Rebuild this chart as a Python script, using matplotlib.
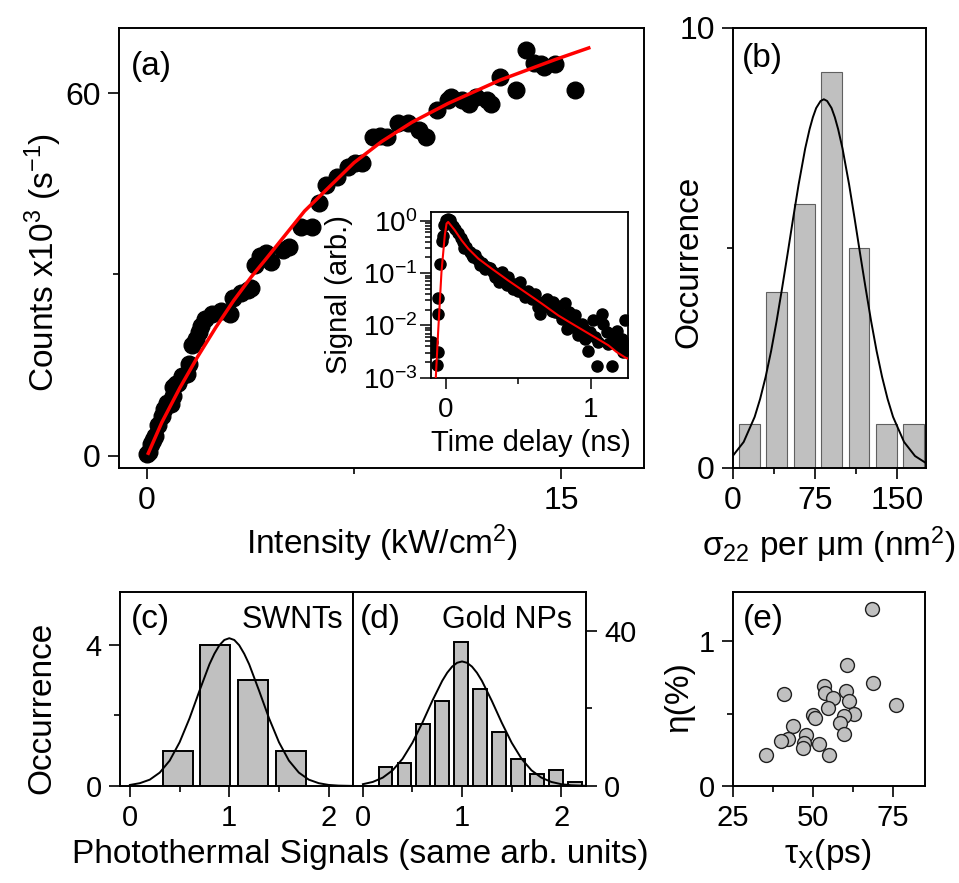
import matplotlib
matplotlib.use("Agg")
import matplotlib.pyplot as plt
from matplotlib.ticker import FixedLocator, LogLocator, NullFormatter

plt.rcParams['font.family'] = ['Liberation Sans', 'DejaVu Sans']
plt.rcParams['mathtext.fontset'] = 'custom'
plt.rcParams['mathtext.rm'] = 'Liberation Sans'
plt.rcParams['mathtext.it'] = 'Liberation Sans:italic'
plt.rcParams['mathtext.default'] = 'regular'

# (a) counts vs intensity
a_int = [0.02, 0.09, 0.16, 0.22, 0.28, 0.41, 0.54, 0.61, 0.74, 0.87, 0.93, 0.93, 1.05, 1.13,
         1.26, 1.45, 1.52, 1.65, 1.77, 1.90, 1.97, 2.10, 2.36, 2.68, 3.01, 3.13, 3.39, 3.65,
         3.78, 3.91, 4.10, 4.30, 4.50, 4.94, 5.13, 5.58, 5.97, 6.23, 6.49, 6.88, 7.27, 7.53,
         7.79, 8.17, 8.45, 8.69, 9.08, 9.47, 9.86, 10.12, 10.51, 10.89, 11.02, 11.41, 11.67,
         11.93, 12.32, 12.45, 12.77, 13.35, 13.74, 14.00, 14.26, 14.39, 14.78, 15.49]
a_counts = [0.3, 0.6, 1.9, 2.6, 3.3, 5.0, 6.6, 7.7, 8.8, 8.5, 9.9, 11.3, 11.8, 12.1,
            13.2, 13.5, 15.1, 18.4, 19.3, 20.4, 21.5, 22.6, 23.4, 23.9, 23.4, 26.1, 27.0, 27.5,
            27.8, 31.6, 33.0, 33.6, 32.0, 34.0, 34.6, 37.9, 37.9, 41.8, 44.8, 46.2, 47.8, 48.4,
            48.4, 52.8, 53.0, 52.8, 55.0, 55.0, 53.9, 52.8, 57.2, 58.8, 59.4, 58.8, 58.3,
            59.4, 58.8, 58.3, 62.7, 60.5, 67.1, 65.0, 64.9, 64.4, 64.9, 60.5]
a_fit_int = [0.05, 0.54, 1.19, 1.84, 2.49, 3.13, 3.78, 4.30, 5.71, 7.5, 8.5, 9.6, 10.9, 12.8, 14.8, 16.0]
a_fit_counts = [0.4, 5.5, 11.2, 16.4, 21.2, 25.6, 29.6, 32.5, 40.5, 48.5, 52.0, 55.2, 58.3, 62.2, 65.6, 67.5]

# inset: time-resolved signal
in_t = [-0.096, -0.092, -0.062, -0.051, -0.055, -0.051, -0.039, -0.023, -0.016, -0.009, 0.0, 0.014,
        0.03, 0.041, 0.053, 0.068, 0.087, 0.105, 0.121, 0.144, 0.167, 0.179, 0.201, 0.224, 0.236,
        0.259, 0.282, 0.305, 0.328, 0.351, 0.367, 0.39, 0.408, 0.431, 0.449, 0.465, 0.488, 0.511,
        0.523, 0.546, 0.569, 0.592, 0.615, 0.638, 0.649, 0.672, 0.695, 0.718, 0.741, 0.752, 0.775,
        0.798, 0.821, 0.833, 0.849, 0.867, 0.89, 0.913, 0.936, 0.959, 0.982, 0.993, 1.016, 1.028,
        1.039, 1.05, 1.073, 1.085, 1.108, 1.12, 1.143, 1.154, 1.177, 1.189, 1.212, 1.234, 1.234, 1.223,
        0.13, 0.19, 0.25, 0.27, 0.34, 0.38, 0.42, 0.47, 0.50, 0.56, 0.60, 0.66, 0.70, 0.73, 0.78,
        0.86, 0.88, 0.95]
in_sig = [0.00479, 0.00309, 0.00178, 0.00316, 0.0166, 0.0331, 0.151, 0.407, 0.513, 0.851, 1.02, 1.10,
          1.02, 0.891, 0.794, 0.692, 0.575, 0.468, 0.398, 0.316, 0.257, 0.219, 0.224, 0.178, 0.141,
          0.145, 0.132, 0.123, 0.105, 0.0912, 0.0676, 0.105, 0.0776, 0.0851, 0.0631, 0.0501, 0.0537, 0.0676,
          0.0427, 0.0347, 0.0447, 0.0324, 0.0407, 0.0224, 0.0166, 0.0282, 0.0316, 0.0224, 0.0282, 0.0182, 0.0240,
          0.0135, 0.0263, 0.00871, 0.0182, 0.0126, 0.0155, 0.00646, 0.0107, 0.0055, 0.00331, 0.00741, 0.0126, 0.00603,
          0.0017, 0.00479, 0.0166, 0.0107, 0.00741, 0.00447, 0.0017, 0.00603, 0.00794, 0.00417, 0.0055, 0.0126, 0.00417, 0.00309,
          0.30, 0.20, 0.155, 0.12, 0.085, 0.09, 0.06, 0.062, 0.045, 0.036, 0.038, 0.021, 0.025, 0.019, 0.017,
          0.011, 0.0095, 0.0085]
in_fit_t = [-0.067, -0.051, -0.028, -0.005, 0.007, 0.018, 0.064, 0.11, 0.156, 0.225, 0.316, 0.431,
            0.546, 0.661, 0.776, 0.89, 1.005, 1.12, 1.177, 1.234, 1.255]
in_fit_sig = [0.001, 0.0074, 0.105, 0.537, 0.89, 0.955, 0.66, 0.427, 0.295, 0.19, 0.123, 0.0724,
              0.0437, 0.0263, 0.0155, 0.01, 0.00646, 0.00417, 0.00309, 0.00245, 0.0023]

# (b) cross-section histogram
b_bins = [15, 40, 65, 90, 115, 140, 165]
b_counts = [1, 4, 6, 9, 5, 1, 1]
b_fit_x = [0, 10, 20, 25, 30, 35, 40, 45, 50, 55, 60, 66, 70, 73, 76, 80, 83, 86, 90, 93,
           96, 100, 106, 111, 116, 121, 126, 131, 136, 141, 146, 156, 166, 176]
b_fit_y = [0.27, 0.59, 1.16, 1.57, 2.07, 2.66, 3.34, 4.09, 4.87, 5.67, 6.44, 7.26, 7.70, 7.97, 8.18,
           8.34, 8.38, 8.34, 8.18, 7.97, 7.70, 7.26, 6.44, 5.67, 4.87, 4.09, 3.34, 2.66, 2.07, 1.57,
           1.16, 0.59, 0.27, 0.11]

# (c) SWNTs histogram
c_bins = [0.48, 0.86, 1.24, 1.62]
c_counts = [1, 4, 3, 1]
c_fit_x = [0, 0.1, 0.2, 0.3, 0.4, 0.5, 0.6, 0.7, 0.8, 0.85, 0.9, 0.95, 1.0, 1.05, 1.1, 1.15,
           1.2, 1.3, 1.4, 1.5, 1.6, 1.7, 1.8, 1.9, 2.0, 2.1, 2.245]
c_fit_y = [0.03, 0.08, 0.18, 0.38, 0.72, 1.24, 1.92, 2.70, 3.45, 3.75, 3.99, 4.14, 4.19, 4.14, 3.99, 3.75,
           3.45, 2.70, 1.92, 1.24, 0.72, 0.38, 0.18, 0.08, 0.03, 0.011, 0.002]

# (d) gold NPs histogram
d_bins = [0.228, 0.419, 0.61, 0.801, 0.992, 1.183, 1.374, 1.565, 1.756, 1.947, 2.138]
d_counts = [5, 6, 16, 22, 37, 25, 14, 7, 3, 4, 1]
d_fit_x = [0, 0.1, 0.2, 0.3, 0.4, 0.5, 0.6, 0.7, 0.8, 0.85, 0.9, 0.95, 1.0, 1.05, 1.1, 1.15,
           1.2, 1.3, 1.4, 1.5, 1.6, 1.7, 1.8, 1.9, 2.0, 2.1, 2.25]
d_fit_y = [0.47, 1.05, 2.15, 4.05, 7.01, 11.17, 16.33, 21.95, 27.11, 29.19, 30.77, 31.76, 32.1, 31.76,
           30.77, 29.19, 27.11, 21.95, 16.33, 11.17, 7.01, 4.05, 2.15, 1.05, 0.47, 0.19, 0.04]

# (e) efficiency vs exciton lifetime
e_tau = [68.5, 60.8, 41.1, 53.4, 53.9, 56.3, 60.5, 61.3, 68.8, 75.8, 54.8, 62.9, 59.6,
         49.9, 50.8, 58.4, 43.9, 59.6, 48.0, 42.1, 40.0, 47.2, 47.0, 52.0, 55.1, 35.3]
e_eta = [1.225, 0.833, 0.637, 0.692, 0.641, 0.611, 0.653, 0.590, 0.711, 0.5625, 0.537, 0.498, 0.486,
         0.491, 0.468, 0.4375, 0.417, 0.356, 0.352, 0.322, 0.308, 0.299, 0.264, 0.289, 0.213, 0.215]

W, H = 959, 883
fig = plt.figure(figsize=(W / 100, H / 100), dpi=100)


def box(l, t, r, b):
    return [l / W, 1 - b / H, (r - l) / W, (b - t) / H]


def at(x, y):
    return (x / W, 1 - y / H)


def style(ax, fs, major, minor_x, minor_y):
    for s in ax.spines.values():
        s.set_linewidth(1.4)
    ax.tick_params(which='both', direction='out', width=1.2, labelsize=fs, pad=5,
                   top=False, right=False)
    ax.tick_params(which='major', length=8)
    ax.tick_params(which='minor', length=4)
    ax.xaxis.set_major_locator(FixedLocator(major[0]))
    ax.yaxis.set_major_locator(FixedLocator(major[1]))
    ax.xaxis.set_minor_locator(FixedLocator(minor_x))
    ax.yaxis.set_minor_locator(FixedLocator(minor_y))


gray = '#c0c0c0'

# ---- (a)
ax = fig.add_axes(box(119, 28, 644, 468))
ax.plot(a_int, a_counts, 'o', color='black', ms=12, zorder=2)
ax.plot(a_fit_int, a_fit_counts, color='red', lw=2.5, zorder=3)
ax.set_xlim(-1.01, 18.0)
ax.set_ylim(-2.04, 70.8)
style(ax, 23, ([0, 15], [0, 60]), [7.5], [30])
ax.text(0.022, 0.912, '(a)', transform=ax.transAxes, fontsize=24, ha='left', va='center')

# ---- inset
ai = fig.add_axes(box(431, 211.7, 628, 377.7))
ai.semilogy(in_t, in_sig, 'o', color='black', ms=8, zorder=2)
ai.semilogy(in_fit_t, in_fit_sig, color='red', lw=1.5, zorder=3)
ai.set_xlim(-0.1, 1.255)
ai.set_ylim(1e-3, 1.5)
for s in ai.spines.values():
    s.set_linewidth(1.3)
ai.tick_params(which='both', direction='out', width=1.1, labelsize=20, top=False, right=False)
ai.tick_params(which='major', length=8)
ai.tick_params(which='minor', length=4)
ai.tick_params(axis='y', pad=2)
ai.tick_params(axis='x', pad=6)
ai.xaxis.set_major_locator(FixedLocator([0, 1]))
ai.xaxis.set_minor_locator(FixedLocator([0.5]))
ai.yaxis.set_major_locator(FixedLocator([1e-3, 1e-2, 1e-1, 1e0]))
ai.yaxis.set_minor_locator(LogLocator(base=10, subs=range(2, 10), numticks=20))
ai.yaxis.set_minor_formatter(NullFormatter())
fig.text(*at(339, 294.7), 'Signal (arb.)', rotation=90, fontsize=21, ha='center', va='center')
fig.text(*at(531, 443), 'Time delay (ns)', fontsize=21, ha='center', va='center')

fig.text(*at(43, 262), 'Counts x10$^3$ (s$^{-1}$)', rotation=90, fontsize=24, ha='center', va='center')
fig.text(*at(382, 543), 'Intensity (kW/cm$^2$)', fontsize=24, ha='center', va='center')

# ---- (b)
ax = fig.add_axes(box(732.7, 28, 926, 467.9))
ax.bar(b_bins, b_counts, width=19, color=gray, edgecolor='#606060', linewidth=0.8, zorder=2)
ax.plot(b_fit_x, b_fit_y, color='black', lw=1.4, zorder=3)
ax.set_xlim(0, 176)
ax.set_ylim(0, 10)
style(ax, 23, ([0, 75, 150], [0, 10]), [37.5, 112.5], [5])
ax.text(0.047, 0.93, '(b)', transform=ax.transAxes, fontsize=24, ha='left', va='center')
fig.text(*at(689, 262), 'Occurrence', rotation=90, fontsize=24, ha='center', va='center')
fig.text(*at(829, 545), 'σ$_{22}$ per μm (nm$^2$)', fontsize=24, ha='center', va='center')

# ---- (c)
ax = fig.add_axes(box(120, 592, 353, 786))
ax.bar(c_bins, c_counts, width=0.30, color=gray, edgecolor='black', linewidth=1.4, zorder=2)
ax.plot(c_fit_x, c_fit_y, color='black', lw=1.4, zorder=3)
ax.set_xlim(-0.1, 2.245)
ax.set_ylim(0, 5.5)
style(ax, 21, ([0, 1, 2], [0, 4]), [0.5, 1.5], [2])
ax.text(0.046, 0.858, '(c)', transform=ax.transAxes, fontsize=24, ha='left', va='center')
ax.text(0.96, 0.858, 'SWNTs', transform=ax.transAxes, fontsize=22, ha='right', va='center')
fig.text(*at(42, 708), 'Occurrence', rotation=90, fontsize=24, ha='center', va='center')

# ---- (d)
ax = fig.add_axes(box(353, 592, 586, 786))
ax.bar(d_bins, d_counts, width=0.14, color=gray, edgecolor='black', linewidth=1.4, zorder=2)
ax.plot(d_fit_x, d_fit_y, color='black', lw=1.4, zorder=3)
ax.set_xlim(-0.1, 2.25)
ax.set_ylim(0, 50)
style(ax, 21, ([0, 1, 2], [0, 40]), [0.5, 1.5], [20])
ax.yaxis.tick_right()
ax.tick_params(which='both', left=False, right=True)
ax.text(0.03, 0.858, '(d)', transform=ax.transAxes, fontsize=24, ha='left', va='center')
ax.text(0.94, 0.858, 'Gold NPs', transform=ax.transAxes, fontsize=22, ha='right', va='center')
fig.text(*at(360, 855), 'Photothermal Signals (same arb. units)', fontsize=24, ha='center', va='center')

# ---- (e)
ax = fig.add_axes(box(732.7, 592, 925, 786))
ax.plot(e_tau, e_eta, 'o', ms=10, markerfacecolor=gray, markeredgecolor='#202020',
        markeredgewidth=1.0, zorder=2)
ax.set_xlim(25, 85)
ax.set_ylim(0, 1.34)
style(ax, 21, ([25, 50, 75], [0, 1]), [37.5, 62.5], [0.5])
ax.text(0.055, 0.858, '(e)', transform=ax.transAxes, fontsize=24, ha='left', va='center')
fig.text(*at(679, 697), 'η(%)', rotation=90, fontsize=24, ha='center', va='center')
fig.text(*at(828, 855), 'τ$_X$(ps)', fontsize=24, ha='center', va='center')

fig.savefig('out.png', dpi=100)
